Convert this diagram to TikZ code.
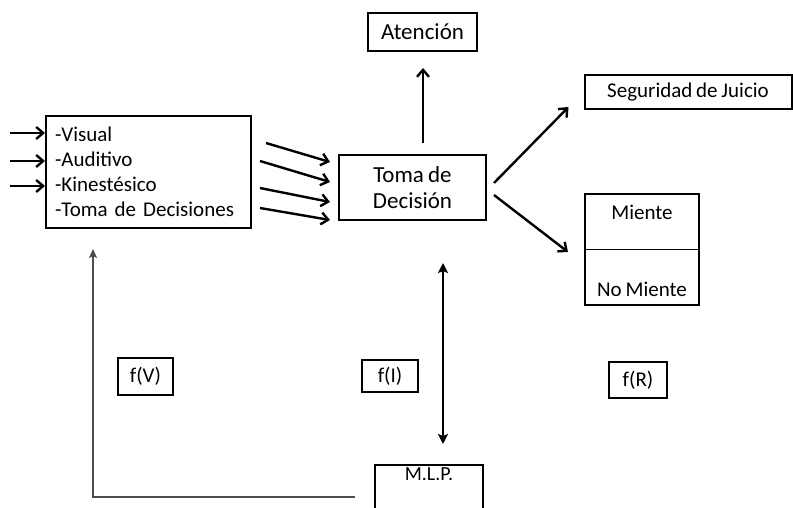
\documentclass[tikz,border=0pt]{standalone}
\usepackage{fontspec}
\setmainfont{Carlito}[WordSpace=0.8]
\usetikzlibrary{arrows.meta,calc}
\begin{document}
\begin{tikzpicture}[x=1pt,y=-1pt,
  txt/.style={font=\fontsize{21}{25}\selectfont},
  big/.style={font=\fontsize{23}{26}\selectfont},
  box/.style={draw,line width=2pt,inner sep=0pt,txt},
  arr/.style={line width=2.4pt,-{Straight Barb[length=7pt,width=12pt]}},
  darr/.style={line width=2.4pt,{Stealth[length=10pt,width=10pt,inset=2pt]}-{Stealth[length=10pt,width=10pt,inset=2pt]}},
  back/.style={line width=1.8pt,black!70,-{Stealth[length=9pt,width=8pt,inset=2pt]}}]
\useasboundingbox (0,0) rectangle (793,508);

% boxes
\node[box,minimum width=205pt,minimum height=112pt,text width=187pt,inner xsep=9pt,align=left] (senses) at (148.5,172)
  {-Visual\\-Auditivo\\-Kinestésico\\-Toma de Decisiones};
\node[box,big,minimum width=147pt,minimum height=65pt,align=center] (toma) at (412.5,187.5) {Toma de\\Decisión};
\node[box,big,minimum width=109pt,minimum height=38pt] (aten) at (422.5,32) {Atención};
\node[box,minimum width=207pt,minimum height=34pt] (segur) at (688,92) {Seguridad de Juicio};
\node[box,minimum width=114pt,minimum height=111pt] (miente) at (642,249.5) {};
\draw[line width=1.5pt] (miente.west) -- (miente.east);
\node[txt] (mtxt) at (642,212) {Miente};
\node[txt] (nmtxt) at (642,289) {No Miente};
\node[box,minimum width=108pt,minimum height=54pt] (mlp) at (429,492) {};
\node[font=\fontsize{20}{24}\selectfont] (mlptxt) at (429,474) {M.L.P.};
\node[box,minimum width=55pt,minimum height=37pt] (fv) at (145.5,376.5) {f(V)};
\node[box,minimum width=56pt,minimum height=32pt] (fi) at (390,376) {f(I)};
\node[box,minimum width=58pt,minimum height=36pt] (fr) at (638,380) {f(R)};

% inputs
\foreach \n/\y in {1/133,2/161,3/186}{
  \coordinate (in\n) at (10,\y);
  \draw[arr] (in\n) -- (in\n -| senses.west);
}

% senses to decision
\draw[arr] ($(senses.east)+(14,-29)$) -- ($(toma.west)+(-8,-25.5)$);
\draw[arr] ($(senses.east)+(8,-11)$) -- ($(toma.west)+(-8,-5.5)$);
\draw[arr] ($(senses.east)+(8,16)$) -- ($(toma.west)+(-8,14.5)$);
\draw[arr] ($(senses.east)+(8,36)$) -- ($(toma.west)+(-8,32.5)$);

% decision outputs
\draw[arr] ($(aten.south)+(0.5,91)$) -- ($(aten.south)+(0.5,16)$);
\draw[arr] ($(toma.east)+(7,-4.5)$) -- ($(segur.west)+(-15,15)$);
\draw[arr] ($(toma.east)+(7,7.5)$) -- ($(miente.west)+(-16,2.5)$);

% memory link
\draw[darr] ($(toma.south)+(30.5,42)$) -- ($(mlp.north)+(14,-20)$);
\draw[back] ($(mlp.west)+(-19,5)$) -| ($(senses.south)+(-55.5,20)$);
\end{tikzpicture}
\end{document}
